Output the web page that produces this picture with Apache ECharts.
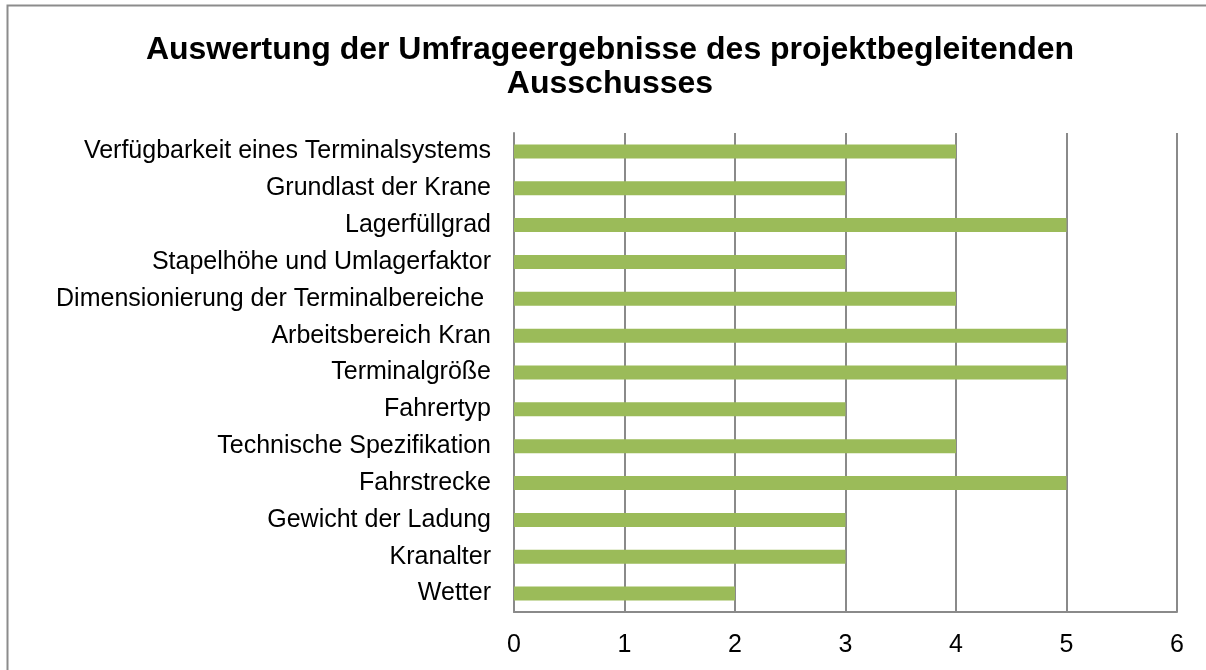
<!DOCTYPE html>
<html>
<head>
<meta charset="utf-8">
<script src="https://cdn.jsdelivr.net/npm/echarts@6/dist/echarts.min.js"></script>
<style>
  html, body { margin: 0; padding: 0; background: #fff; }
  #chart { width: 1206px; height: 670px; }
</style>
</head>
<body>
<div id="chart"></div>
<script>
// categories listed bottom to top (category axis starts at the bottom)
const categories = [
    'Wetter', 'Kranalter', 'Gewicht der Ladung', 'Fahrstrecke',
    'Technische Spezifikation', 'Fahrertyp', 'Terminalgröße',
    'Arbeitsbereich Kran', 'Dimensionierung der Terminalbereiche ',
    'Stapelhöhe und Umlagerfaktor', 'Lagerfüllgrad', 'Grundlast der Krane',
    'Verfügbarkeit eines Terminalsystems'
];
const values = [2, 3, 3, 5, 4, 3, 5, 5, 4, 3, 5, 3, 4];
const xTicks = [0, 1, 2, 3, 4, 5, 6];

const chart = echarts.init(document.getElementById('chart'));
const font = '"Liberation Sans", Arial, sans-serif';

const option = {
    backgroundColor: '#fff',
    animation: false,
    title: {
        text: 'Auswertung der Umfrageergebnisse des projektbegleitenden\nAusschusses',
        left: 605,
        top: 28,
        textAlign: 'center',
        textStyle: { fontFamily: font, fontSize: 32, fontWeight: 'bold', color: '#000', lineHeight: 34 }
    },
    graphic: [{
        type: 'rect',
        shape: { x: 7.5, y: 5.5, width: 1220, height: 700 },
        style: { fill: 'none', stroke: '#8c8c8c', lineWidth: 2 },
        silent: true
    }],
    grid: { left: 514, right: 29, top: 133, bottom: 58, containLabel: false },
    xAxis: {
        type: 'value',
        min: xTicks[0],
        max: xTicks[xTicks.length - 1],
        interval: 1,
        axisLine: { show: true, lineStyle: { color: '#8a8a8a', width: 2 } },
        axisTick: { show: false },
        axisLabel: { color: '#000', fontFamily: font, fontSize: 25, margin: 21 },
        splitLine: { show: true, lineStyle: { color: '#8a8a8a', width: 2 } }
    },
    yAxis: {
        type: 'category',
        data: categories,
        axisLine: { show: true, lineStyle: { color: '#8a8a8a', width: 2 } },
        axisTick: { show: false },
        axisLabel: { color: '#000', fontFamily: font, fontSize: 25, margin: 23 }
    },
    series: [{
        type: 'bar',
        data: values,
        barWidth: 14,
        itemStyle: { color: '#9bbb59' }
    }]
};
chart.setOption(option);
</script>
</body>
</html>
